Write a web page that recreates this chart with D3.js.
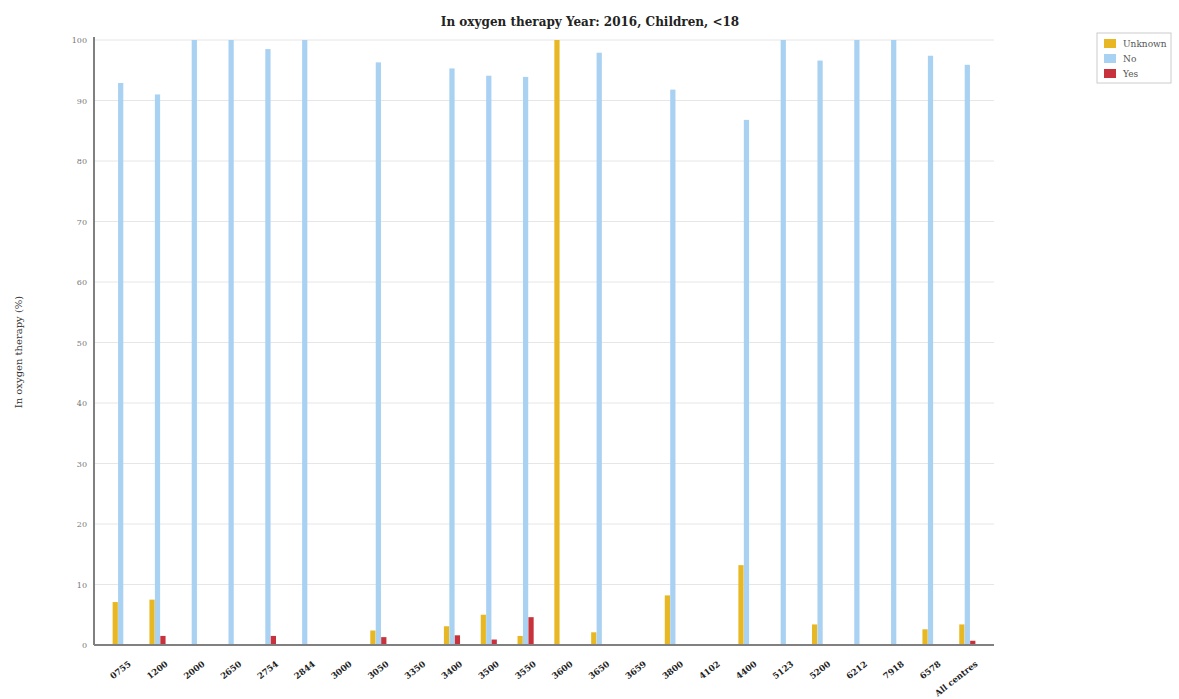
<!DOCTYPE html>
<html><head><meta charset="utf-8">
<script src="https://cdn.jsdelivr.net/npm/d3@7"></script>
<style>body{margin:0;background:#fff;} svg{display:block;}</style>
</head><body>
<svg id="chart" width="1179" height="699"></svg>
<script>
const categories = ["0755","1200","2000","2650","2754","2844","3000","3050","3350","3400","3500","3550","3600","3650","3659","3800","4102","4400","5123","5200","6212","7918","6578","All centres"];
const seriesNames = ["Unknown","No","Yes"];
const unknownValues = [7.1,7.5,0,0,0,0,0,2.4,0,3.1,5.0,1.5,100,2.1,0,8.2,0,13.2,0,3.4,0,0,2.6,3.4];
const noValues      = [92.9,91.0,100,100,98.5,100,0,96.3,0,95.3,94.1,93.9,0,97.9,0,91.8,0,86.8,100,96.6,100,100,97.4,95.9];
const yesValues     = [0,1.5,0,0,1.5,0,0,1.3,0,1.6,0.9,4.6,0,0,0,0,0,0,0,0,0,0,0,0.7];
const yTicks = [0,10,20,30,40,50,60,70,80,90,100];
const colors = ["#e8b824","#a9d1f2","#c8323c"];
const title = "In oxygen therapy Year: 2016, Children, <18";
const yLabel = "In oxygen therapy (%)";

(function(){
const seriesValues = [unknownValues, noValues, yesValues];
const data = categories.map((c,i)=>({cat:c, vals: seriesNames.map((s,j)=>({key:s, value:seriesValues[j][i], color:colors[j]}))}));

const svg = d3.select("#chart");
const mLeft = 94, mRight = 994, mTop = 40, mBottom = 645;

const x0 = d3.scaleBand().domain(categories).range([mLeft,mRight]).paddingInner(0.55).paddingOuter(0.5);
const x1 = d3.scaleBand().domain(seriesNames).range([0,x0.bandwidth()]).padding(0.04);
const y = d3.scaleLinear().domain([0,100]).range([mBottom,mTop]);

// gridlines
svg.append("g").selectAll("line").data(yTicks.filter(t=>t>0)).join("line")
  .attr("x1",mLeft).attr("x2",mRight).attr("y1",d=>y(d)).attr("y2",d=>y(d))
  .attr("stroke","#e6e6e6").attr("stroke-width",1);

// bars
const g = svg.append("g");
g.selectAll("g.grp").data(data).join("g").attr("class","grp")
  .attr("transform",d=>`translate(${x0(d.cat)},0)`)
  .selectAll("rect").data(d=>d.vals.filter(v=>v.value>0)).join("rect")
  .attr("x",v=>x1(v.key)).attr("width",x1.bandwidth())
  .attr("y",v=>y(v.value)).attr("height",v=>mBottom-y(v.value))
  .attr("fill",v=>v.color);

// y axis
const yAxis = svg.append("g").attr("transform",`translate(${mLeft},0)`)
  .call(d3.axisLeft(y).tickValues(yTicks).tickSize(0).tickPadding(7));
yAxis.select(".domain").attr("stroke","#808080").attr("stroke-width",2).attr("d",`M0,${mTop-3}V${mBottom}`);
yAxis.selectAll("text").attr("font-family","DejaVu Serif").attr("font-size",8).attr("fill","#777");

// x axis
const xAxis = svg.append("g").attr("transform",`translate(0,${mBottom})`)
  .call(d3.axisBottom(x0).tickSize(0).tickPadding(0));
xAxis.select(".domain").attr("stroke","#808080").attr("stroke-width",2).attr("d",`M${mLeft},0H${mRight}`);
xAxis.selectAll("text")
  .attr("font-family","DejaVu Serif").attr("font-weight","bold").attr("font-size",8.5).attr("fill","#222")
  .attr("text-anchor","end").attr("y",0).attr("dy","0")
  .attr("transform","translate(11,20) rotate(-38)");

// title
svg.append("text").attr("x",590).attr("y",26).attr("text-anchor","middle")
  .attr("font-family","DejaVu Serif").attr("font-weight","bold").attr("font-size",12).attr("fill","#222")
  .text(title);

// y label
svg.append("text").attr("transform","translate(22,352) rotate(-90)").attr("text-anchor","middle")
  .attr("font-family","DejaVu Serif").attr("font-size",10).attr("fill","#333")
  .text(yLabel);

// legend
const lg = svg.append("g").attr("transform","translate(1097,33)");
lg.append("rect").attr("width",74).attr("height",50).attr("fill","#fff").attr("stroke","#ccc");
const items = lg.selectAll("g.item").data(seriesNames).join("g").attr("class","item")
  .attr("transform",(d,i)=>`translate(7,${6+i*15})`);
items.append("rect").attr("width",12).attr("height",9).attr("fill",(d,i)=>colors[i]);
items.append("text").attr("x",19).attr("y",8).attr("font-family","DejaVu Serif").attr("font-size",9).attr("fill","#555").text(d=>d);
})();
</script>
</body></html>
